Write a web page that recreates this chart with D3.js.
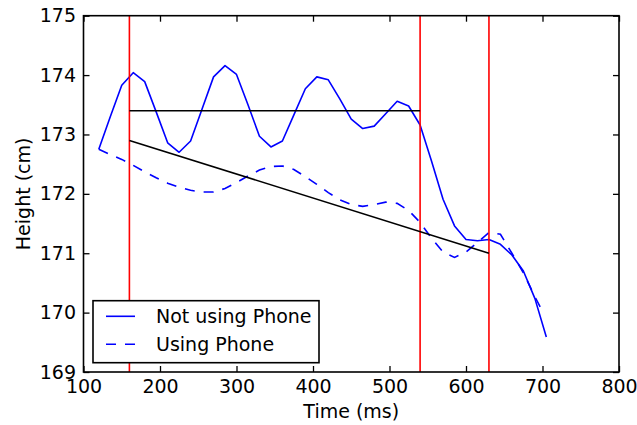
<!DOCTYPE html>
<html>
<head>
<meta charset="utf-8">
<script src="https://cdn.jsdelivr.net/npm/d3@7"></script>
<style>
  html, body { margin: 0; padding: 0; background: #fff; }
  svg text { font-family: "DejaVu Sans", sans-serif; }
</style>
</head>
<body>
<svg id="chart" width="637" height="425"></svg>
<script>
// ---- data ----
const notUsingTime = [120,135,150,165,180,195,210,225,240,255,270,285,300,315,330,345,360,375,390,405,420,435,450,465,480,495,510,525,540,555,570,585,600,615,630,645,660,675,690,705];
const notUsingHeight = [172.75,173.3,173.83,174.04,173.89,173.38,172.86,172.70,172.89,173.43,173.97,174.16,174.01,173.5,172.97,172.79,172.89,173.33,173.77,173.97,173.92,173.6,173.26,173.10,173.14,173.35,173.56,173.48,173.16,172.55,171.91,171.46,171.23,171.21,171.23,171.15,170.97,170.70,170.24,169.59];

const usingTime = [120,135,150,165,180,195,210,225,240,255,270,285,300,315,330,345,360,375,390,405,420,435,450,465,480,495,510,525,540,555,570,585,600,615,630,645,660,675,690,698];
const usingHeight = [172.75,172.66,172.58,172.48,172.37,172.27,172.18,172.11,172.06,172.03,172.03,172.09,172.19,172.30,172.40,172.46,172.47,172.41,172.29,172.16,172.02,171.90,171.82,171.79,171.82,171.86,171.84,171.72,171.52,171.25,171.02,170.93,171.02,171.18,171.35,171.32,171.00,170.67,170.27,170.07];

const redLines = [160, 540, 630];
const flatLineTime = [160, 540];
const flatLineHeight = [173.4, 173.4];
const slopeLineTime = [160, 630];
const slopeLineHeight = [172.9, 171.0];

const xTicks = [100,200,300,400,500,600,700,800];
const yTicks = [169,170,171,172,173,174,175];
const legendLabels = ["Not using Phone", "Using Phone"];

// ---- layout ----
const svg = d3.select("#chart");
svg.append("rect").attr("width", 637).attr("height", 425).attr("fill", "#fff");
const L = 83.5, R = 619, T = 15.7, B = 372;
const x = d3.scaleLinear().domain([100, 800]).range([L, R]);
const y = d3.scaleLinear().domain([169, 175]).range([B, T]);
const fs = 19;

const line = d3.line().x(d => x(d[0])).y(d => y(d[1]));
const zip = (a, b) => a.map((v, i) => [v, b[i]]);

// data lines
svg.append("path").datum(zip(notUsingTime, notUsingHeight))
  .attr("d", line).attr("fill", "none").attr("stroke", "#0000ff").attr("stroke-width", 1.6)
  .attr("stroke-linejoin", "round");
svg.append("path").datum(zip(usingTime, usingHeight))
  .attr("d", line).attr("fill", "none").attr("stroke", "#0000ff").attr("stroke-width", 1.6)
  .attr("stroke-dasharray", "10,9");

// red vertical lines
svg.selectAll(".red").data(redLines).enter().append("line")
  .attr("x1", d => x(d)).attr("x2", d => x(d)).attr("y1", y(175)).attr("y2", y(169))
  .attr("stroke", "#ff0000").attr("stroke-width", 1.6);

// black lines
svg.append("path").datum(zip(flatLineTime, flatLineHeight))
  .attr("d", line).attr("fill", "none").attr("stroke", "#000").attr("stroke-width", 1.6);
svg.append("path").datum(zip(slopeLineTime, slopeLineHeight))
  .attr("d", line).attr("fill", "none").attr("stroke", "#000").attr("stroke-width", 1.6);

// axes (ticks inward)
const xAxisB = d3.axisBottom(x).tickValues(xTicks).tickSizeInner(-6).tickSizeOuter(0).tickPadding(7.5).tickFormat(d3.format("d"));
const xAxisT = d3.axisTop(x).tickValues(xTicks).tickSizeInner(-6).tickSizeOuter(0).tickFormat("");
const yAxisL = d3.axisLeft(y).tickValues(yTicks).tickSizeInner(-6).tickSizeOuter(0).tickPadding(7.5).tickFormat(d3.format("d"));
const yAxisR = d3.axisRight(y).tickValues(yTicks).tickSizeInner(-6).tickSizeOuter(0).tickFormat("");

function styleAxis(g) {
  g.select(".domain").remove();
  g.selectAll(".tick line").attr("stroke", "#000").attr("stroke-width", 1.3);
  g.selectAll(".tick text").attr("fill", "#000").style("font-size", fs + "px").style("font-family", "DejaVu Sans");
}
svg.append("g").attr("transform", `translate(0,${B})`).call(xAxisB).call(styleAxis);
svg.append("g").attr("transform", `translate(0,${T})`).call(xAxisT).call(styleAxis);
svg.append("g").attr("transform", `translate(${L},0)`).call(yAxisL).call(styleAxis);
svg.append("g").attr("transform", `translate(${R},0)`).call(yAxisR).call(styleAxis);

// frame
svg.append("rect").attr("x", L).attr("y", T).attr("width", R - L).attr("height", B - T)
  .attr("fill", "none").attr("stroke", "#000").attr("stroke-width", 1.6);

// axis labels
svg.append("text").attr("x", (L + R) / 2).attr("y", 418).attr("text-anchor", "middle")
  .style("font-size", fs + "px").text("Time (ms)");
svg.append("text").attr("transform", `translate(30,${(T + B) / 2}) rotate(-90)`).attr("text-anchor", "middle")
  .style("font-size", fs + "px").text("Height (cm)");

// legend
const lg = svg.append("g");
lg.append("rect").attr("x", 93).attr("y", 300.7).attr("width", 226).attr("height", 62)
  .attr("fill", "#fff").attr("stroke", "#000").attr("stroke-width", 1.6);
const legendRows = [316.3, 344.3];
legendLabels.forEach((lab, i) => {
  const ly = legendRows[i];
  const ln = lg.append("line").attr("x1", 106).attr("x2", 135).attr("y1", ly).attr("y2", ly)
    .attr("stroke", "#0000ff").attr("stroke-width", 1.6);
  if (i === 1) ln.attr("stroke-dasharray", "10,9");
  lg.append("text").attr("x", 156).attr("y", ly + 7).style("font-size", fs + "px").text(lab);
});
</script>
</body>
</html>
